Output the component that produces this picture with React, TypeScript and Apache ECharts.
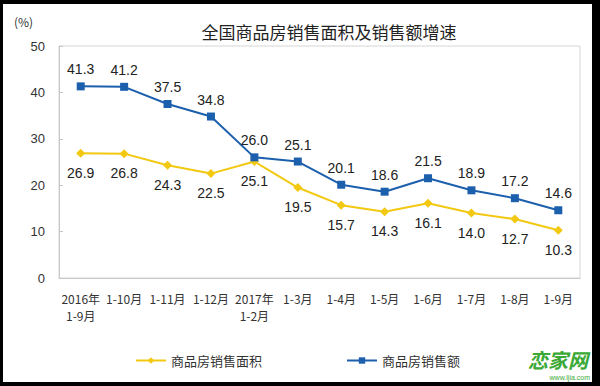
import React, { useEffect, useRef } from "react";
import * as echarts from "echarts";

const categories = [
  "2016年\n1-9月", "1-10月", "1-11月", "1-12月", "2017年\n1-2月", "1-3月",
  "1-4月", "1-5月", "1-6月", "1-7月", "1-8月", "1-9月",
];
const areaGrowth = [26.9, 26.8, 24.3, 22.5, 25.1, 19.5, 15.7, 14.3, 16.1, 14.0, 12.7, 10.3];
const salesGrowth = [41.3, 41.2, 37.5, 34.8, 26.0, 25.1, 20.1, 18.6, 21.5, 18.9, 17.2, 14.6];
const seriesNames = ["商品房销售面积", "商品房销售额"];
const titleText = "全国商品房销售面积及销售额增速";

export default function App() {
  const ref = useRef<HTMLDivElement>(null);
  useEffect(() => {
    if (!ref.current) return;
    const chart = echarts.init(ref.current, null, { renderer: "svg" });
    const labelFont = { fontFamily: "Liberation Sans, Arial, sans-serif", fontSize: 14, color: "#222" };
    chart.setOption({
      animation: false,
      backgroundColor: "#fff",
      title: {
        text: titleText,
        left: 324,
        top: 18,
        textAlign: "center",
        textStyle: { fontFamily: "Noto Sans CJK SC", fontSize: 17, fontWeight: "normal", color: "#222" },
      },
      legend: {
        bottom: 14,
        left: 130,
        itemGap: 84,
        itemWidth: 30,
        itemHeight: 8,
        textStyle: { fontFamily: "Noto Sans CJK SC", fontSize: 13, color: "#333" },
        data: [seriesNames[0], seriesNames[1]],
      },
      grid: {
        left: 59,
        right: 20,
        top: 46,
        bottom: 108,
        show: true,
        borderColor: "#d6d6d6",
        borderWidth: 1,
      },
      xAxis: {
        type: "category",
        data: categories,
        boundaryGap: true,
        axisLine: { lineStyle: { color: "#c8c8c8" } },
        axisTick: { inside: true, length: 4, lineStyle: { color: "#c8c8c8" } },
        axisLabel: {
          interval: 0,
          margin: 12,
          fontFamily: "Noto Sans CJK SC",
          fontSize: 12,
          lineHeight: 17,
          color: "#333",
        },
      },
      yAxis: {
        type: "value",
        min: 0,
        max: 50,
        interval: 10,
        axisLine: { show: true, lineStyle: { color: "#c8c8c8" } },
        axisTick: { show: true, inside: true, length: 4, lineStyle: { color: "#c8c8c8" } },
        splitLine: { show: false },
        axisLabel: { margin: 14, fontFamily: "Liberation Sans, Arial", fontSize: 13, color: "#333" },
      },
      series: [
        {
          name: seriesNames[0],
          type: "line",
          data: areaGrowth,
          symbol: "diamond",
          symbolSize: 9,
          lineStyle: { color: "#f2c811", width: 2 },
          itemStyle: { color: "#f2c811" },
          label: {
            show: true,
            position: "bottom",
            distance: 8,
            formatter: (p: any) => p.value.toFixed(1),
            ...labelFont,
          },
          z: 2,
        },
        {
          name: seriesNames[1],
          type: "line",
          data: salesGrowth,
          symbol: "rect",
          symbolSize: 8,
          lineStyle: { color: "#1c5fad", width: 2 },
          itemStyle: { color: "#1c5fad" },
          label: {
            show: true,
            position: "top",
            distance: 6,
            formatter: (p: any) => p.value.toFixed(1),
            ...labelFont,
          },
          z: 3,
        },
      ],
      graphic: [
        {
          type: "text",
          left: 14,
          top: 15,
          style: { text: "(%)", fontFamily: "Noto Sans CJK SC", fontSize: 12, fill: "#333" },
        },
        {
          type: "text",
          right: 12,
          bottom: 17,
          style: {
            text: "恋家网",
            fontFamily: "Noto Sans CJK SC",
            fontSize: 20,
            fontWeight: "bold",
            fontStyle: "italic",
            fill: "#3aa935",
          },
        },
        {
          type: "text",
          right: 10,
          bottom: 5,
          style: { text: "www.ljia.com", fontFamily: "Liberation Sans", fontSize: 7, fill: "#3aa935" },
        },
        { type: "rect", left: 0, top: 0, shape: { width: 600, height: 4 }, style: { fill: "#000" } },
        { type: "rect", left: 0, top: 0, shape: { width: 3, height: 386 }, style: { fill: "#000" } },
        { type: "rect", left: 592, top: 0, shape: { width: 8, height: 386 }, style: { fill: "#000" } },
        { type: "rect", left: 0, top: 382, shape: { width: 600, height: 4 }, style: { fill: "#000" } },
      ],
    });
    return () => chart.dispose();
  }, []);
  return (
    <div
      ref={ref}
      style={{ position: "fixed", left: 0, top: 0, width: 600, height: 386 }}
    />
  );
}
